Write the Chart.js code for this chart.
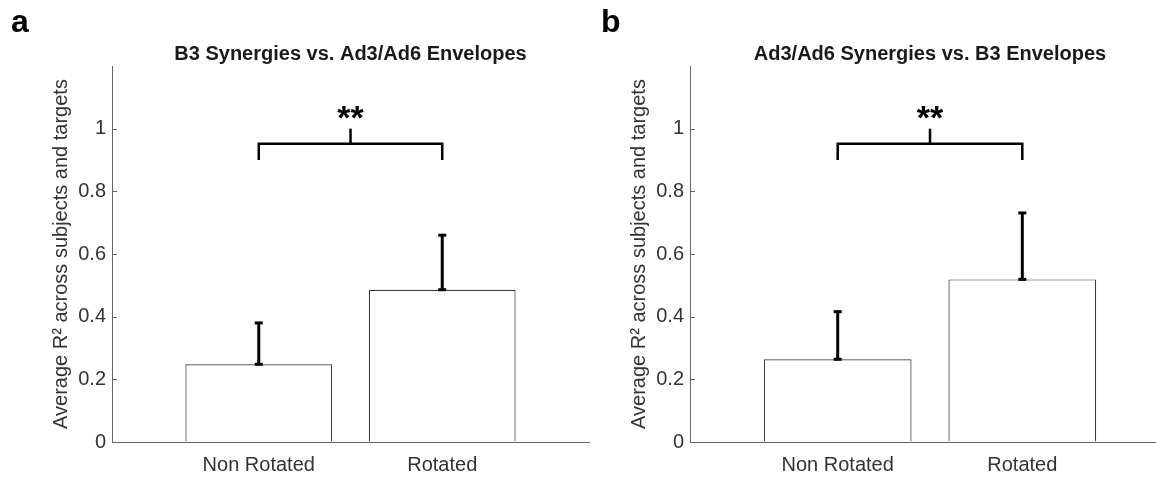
<!DOCTYPE html>
<html>
<head>
<meta charset="utf-8">
<script src="https://cdn.jsdelivr.net/npm/chart.js@4"></script>
<style>
  body { margin: 0; width: 1156px; height: 477px; overflow: hidden; background: #fff; position: relative; }
  .panel { position: absolute; top: 0; width: 600px; height: 477px; }
  #pa { left: 0; }
  #pb { left: 580px; }
</style>
</head>
<body>
<div class="panel" id="pa"><canvas id="chartA"></canvas></div>
<div class="panel" id="pb"><canvas id="chartB"></canvas></div>
<script>
// data
const categories = ['Non Rotated', 'Rotated'];
const positions = [1, 2];
const yTicks = [0, 0.2, 0.4, 0.6, 0.8, 1];

const titleA = 'B3 Synergies vs. Ad3/Ad6 Envelopes';
const meanA = [0.248, 0.486];
const upperA = [0.380, 0.660];

const titleB = 'Ad3/Ad6 Synergies vs. B3 Envelopes';
const meanB = [0.264, 0.519];
const upperB = [0.416, 0.731];

// significance bracket levels (leg bottom, bar, top tick) + star label
const bracketLevels = [0.90, 0.952, 1.0];
const sigLabel = '**';

const FONT = "'Liberation Sans', Arial, sans-serif";
const TXT = '#333';
const AXIS = '#666';

// MATLAB-ish decorations: inward ticks, error bars, bracket, title, panel letter
const matlabDecor = {
  id: 'matlabDecor',
  afterDatasetsDraw(chart, args, opts) {
    const { ctx, chartArea, scales: { x, y } } = chart;
    const line = (x0, y0, x1, y1) => { ctx.beginPath(); ctx.moveTo(x0, y0); ctx.lineTo(x1, y1); ctx.stroke(); };
    ctx.save();

    ctx.strokeStyle = AXIS;
    ctx.lineWidth = 1;
    yTicks.forEach(v => {
      const py = Math.round(y.getPixelForValue(v)) + 0.5;
      line(chartArea.left, py, chartArea.left + 5, py);
    });

    ctx.strokeStyle = '#000';
    ctx.lineWidth = 3;
    opts.mean.forEach((m, i) => {
      const px = x.getPixelForValue(positions[i]);
      const y0 = y.getPixelForValue(m), y1 = y.getPixelForValue(opts.upper[i]);
      line(px, y0, px, y1);
      line(px - 4, y1, px + 4, y1);
      line(px - 4, y0, px + 4, y0);
    });

    ctx.lineWidth = 2.5;
    const bx0 = x.getPixelForValue(positions[0]), bx1 = x.getPixelForValue(positions[1]);
    const bl = y.getPixelForValue(bracketLevels[0]);
    const bm = y.getPixelForValue(bracketLevels[1]);
    const bt = y.getPixelForValue(bracketLevels[2]);
    ctx.beginPath();
    ctx.moveTo(bx0, bl); ctx.lineTo(bx0, bm); ctx.lineTo(bx1, bm); ctx.lineTo(bx1, bl);
    ctx.stroke();
    const bc = (bx0 + bx1) / 2;
    line(bc, bm, bc, bt);

    ctx.fillStyle = '#000';
    ctx.font = 'bold 34px ' + FONT;
    ctx.textAlign = 'center';
    ctx.textBaseline = 'alphabetic';
    ctx.fillText(sigLabel, bc, bt);

    ctx.fillStyle = '#1a1a1a';
    ctx.font = 'bold 20px ' + FONT;
    ctx.fillText(opts.title, (chartArea.left + chartArea.right) / 2, 60);

    ctx.fillStyle = '#000';
    ctx.font = 'bold 32px ' + FONT;
    ctx.textAlign = 'left';
    ctx.fillText(opts.letter, opts.letterX, 32);
    ctx.restore();
  }
};

function makePanel(id, mean, upper, title, letter, pad) {
  return new Chart(document.getElementById(id), {
    type: 'bar',
    data: {
      datasets: [{
        data: positions.map((p, i) => ({ x: p, y: mean[i] })),
        backgroundColor: '#fff',
        borderColor: '#3a3a3a',
        borderWidth: 1.2,
        barPercentage: 0.8,
        categoryPercentage: 1
      }]
    },
    options: {
      responsive: true,
      maintainAspectRatio: false,
      animation: false,
      layout: { padding: { left: pad.left, right: pad.right, top: 66, bottom: 0 } },
      plugins: {
        legend: { display: false },
        tooltip: { enabled: false },
        matlabDecor: { mean, upper, title, letter, letterX: pad.letterX }
      },
      scales: {
        x: {
          type: 'linear', min: 0.2, max: 2.8, offset: false,
          afterBuildTicks: s => { s.ticks = positions.map(v => ({ value: v })); },
          afterFit: s => { s.height = 35; },
          grid: { drawOnChartArea: false, drawTicks: false, offset: false },
          border: { color: AXIS, width: 1 },
          ticks: {
            color: TXT, font: { family: FONT, size: 20 }, padding: 11, maxRotation: 0,
            callback: v => categories[positions.indexOf(v)]
          }
        },
        y: {
          min: 0, max: 1.2,
          afterBuildTicks: s => { s.ticks = yTicks.map(v => ({ value: v })); },
          afterFit: s => { s.width = pad.axisW; },
          grid: { drawOnChartArea: false, drawTicks: false },
          border: { color: AXIS, width: 1 },
          ticks: { color: TXT, font: { family: FONT, size: 20 }, padding: 6, callback: v => String(v) },
          title: {
            display: true, text: 'Average R² across subjects and targets',
            color: TXT, font: { family: FONT, size: 20 }, padding: 0
          }
        }
      }
    },
    plugins: [matlabDecor]
  });
}

makePanel('chartA', meanA, upperA, titleA, 'a', { left: 49, axisW: 63, right: 11, letterX: 11 });
makePanel('chartB', meanB, upperB, titleB, 'b', { left: 47, axisW: 63, right: 10, letterX: 21 });
</script>
</body>
</html>
